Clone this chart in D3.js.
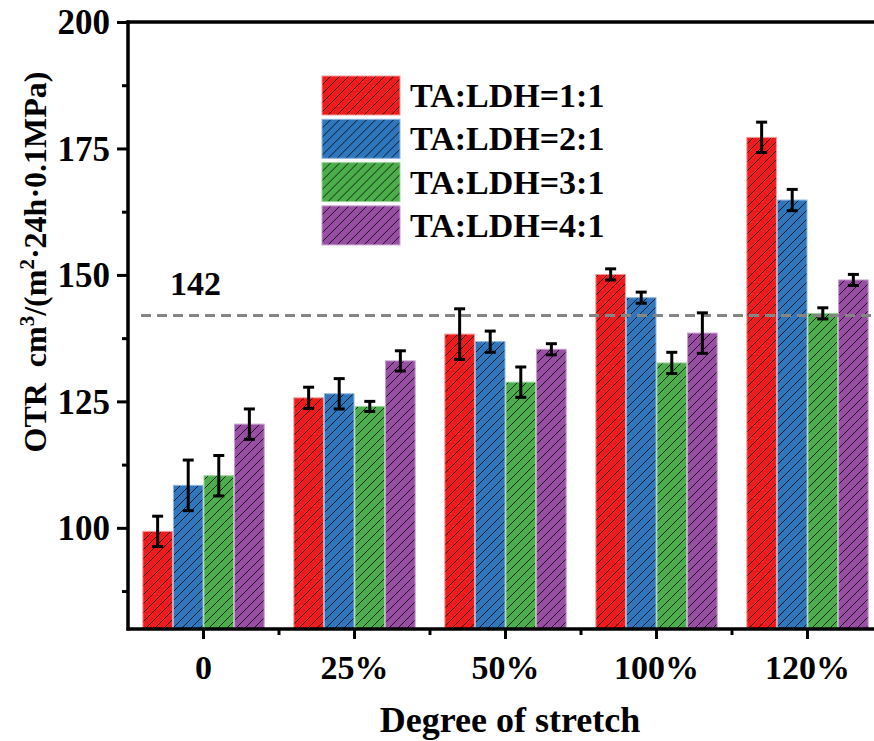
<!DOCTYPE html>
<html>
<head>
<meta charset="utf-8">
<script src="https://cdn.jsdelivr.net/npm/d3@7"></script>
<style>
body{margin:0;background:#fff;}
svg text{font-family:"Liberation Serif","Times New Roman",serif;font-weight:bold;fill:#000;}
</style>
</head>
<body>
<svg id="chart" width="874" height="741"></svg>
<script>
// stretch levels
var categories = ["0", "25%", "50%", "100%", "120%"];
var seriesNames = ["TA:LDH=1:1", "TA:LDH=2:1", "TA:LDH=3:1", "TA:LDH=4:1"];
var seriesColors = ["#EF1A1A", "#2F77BD", "#4BAE4A", "#984EA3"];
var seriesEdges = ["#F59A9A", "#8DB6E0", "#9BD49A", "#C79BCF"];

// OTR values and error per series
var otr11 = [99.3, 125.7, 138.3, 150.1, 177.2];
var otr21 = [108.4, 126.5, 136.8, 145.5, 164.8];
var otr31 = [110.3, 124.0, 128.8, 132.6, 142.4];
var otr41 = [120.5, 133.0, 135.3, 138.5, 149.0];
var err11 = [3.0, 2.1, 5.0, 1.1, 3.0];
var err21 = [5.0, 3.0, 2.1, 1.1, 2.1];
var err31 = [4.0, 1.0, 3.0, 2.1, 1.1];
var err41 = [3.0, 2.0, 1.1, 4.0, 1.1];

var yMajorTicks = [100, 125, 150, 175, 200];
var yMinorTicks = [87.5, 112.5, 137.5, 162.5, 187.5];
var refValue = 142;

var values = [otr11, otr21, otr31, otr41];
var errors = [err11, err21, err31, err41];

var rows = [];
categories.forEach(function(c, i){
    seriesNames.forEach(function(s, j){
        rows.push({cat: c, series: s, idx: j, value: values[j][i], err: errors[j][i]});
    });
});

var svg = d3.select("#chart");
var plotLeft = 128, plotTop = 22, plotBottom = 629, plotRight = 883;

var x0 = d3.scaleBand().domain(categories).range([plotLeft, plotRight]).paddingInner(0.19).paddingOuter(0.095);
var x1 = d3.scaleBand().domain(seriesNames).range([0, x0.bandwidth()]);
var y = d3.scaleLinear().domain([80, 200]).range([plotBottom, plotTop]);

// hatch patterns
var hs = 9;
var defs = svg.append("defs");
seriesNames.forEach(function(s, j){
    var p = defs.append("pattern").attr("id", "hatch" + j)
        .attr("patternUnits", "userSpaceOnUse").attr("width", hs).attr("height", hs);
    p.append("rect").attr("width", hs).attr("height", hs).attr("fill", seriesColors[j]);
    p.append("path").attr("d", "M-1,1 L1,-1 M0," + hs + " L" + hs + ",0 M" + (hs - 1) + "," + (hs + 1) + " L" + (hs + 1) + "," + (hs - 1))
        .attr("stroke", "#000").attr("stroke-width", 0.8);
});

// bars
svg.append("g").selectAll("rect").data(rows).enter().append("rect")
    .attr("x", function(d){ return x0(d.cat) + x1(d.series) + 0.5; })
    .attr("y", function(d){ return y(d.value); })
    .attr("width", x1.bandwidth() - 1)
    .attr("height", function(d){ return plotBottom - y(d.value); })
    .attr("fill", function(d){ return "url(#hatch" + d.idx + ")"; })
    .attr("stroke", function(d){ return seriesEdges[d.idx]; })
    .attr("stroke-width", 1);

// reference line
svg.append("line").attr("x1", plotLeft + 13).attr("x2", 874)
    .attr("y1", y(refValue)).attr("y2", y(refValue))
    .attr("stroke", "#858585").attr("stroke-width", 3).attr("stroke-dasharray", "10,6");
svg.append("text").attr("x", 170).attr("y", 295).style("font-size", "34px").text(refValue);

// error bars
var eb = svg.append("g").attr("stroke", "#000").attr("stroke-width", 3);
rows.forEach(function(d){
    var cx = x0(d.cat) + x1(d.series) + x1.bandwidth() / 2;
    eb.append("line").attr("x1", cx).attr("x2", cx).attr("y1", y(d.value + d.err)).attr("y2", y(d.value - d.err));
    eb.append("line").attr("x1", cx - 5.5).attr("x2", cx + 5.5).attr("y1", y(d.value + d.err)).attr("y2", y(d.value + d.err));
    eb.append("line").attr("x1", cx - 5.5).attr("x2", cx + 5.5).attr("y1", y(d.value - d.err)).attr("y2", y(d.value - d.err));
});

// y axis
var yAxis = svg.append("g").attr("transform", "translate(" + plotLeft + ",0)")
    .call(d3.axisLeft(y).tickValues(yMajorTicks).tickSize(11).tickPadding(7));
svg.append("g").attr("transform", "translate(" + plotLeft + ",0)")
    .call(d3.axisLeft(y).tickValues(yMinorTicks).tickSize(6).tickFormat(""));
yAxis.selectAll("text").style("font-size", "35px").attr("dy", "0.34em");

// x axis
var xAxis = svg.append("g").attr("transform", "translate(0," + plotBottom + ")")
    .call(d3.axisBottom(x0).tickSize(10).tickPadding(16));
xAxis.selectAll("text").style("font-size", "34px");
var minorX = categories.slice(1).map(function(c){ return x0(c) - x0.step() * 0.19 / 2; });
svg.append("g").selectAll("line").data(minorX).enter().append("line")
    .attr("x1", function(d){ return d; }).attr("x2", function(d){ return d; })
    .attr("y1", plotBottom).attr("y2", plotBottom + 6)
    .attr("stroke", "#000").attr("stroke-width", 3);

svg.selectAll(".tick line").attr("stroke-width", 3);
// axis lines drawn by hand so they meet at the corner
svg.selectAll(".domain").remove();
svg.append("line").attr("x1", plotLeft).attr("x2", plotLeft).attr("y1", plotTop - 1.5).attr("y2", plotBottom + 1.5)
    .attr("stroke", "#000").attr("stroke-width", 3.5);
svg.append("line").attr("x1", plotLeft - 1.5).attr("x2", 874).attr("y1", plotBottom).attr("y2", plotBottom)
    .attr("stroke", "#000").attr("stroke-width", 3.5);
svg.append("line").attr("x1", plotLeft - 1.5).attr("x2", 874).attr("y1", plotTop).attr("y2", plotTop)
    .attr("stroke", "#000").attr("stroke-width", 3.5);

// axis titles
svg.append("text").attr("x", 510).attr("y", 732).attr("text-anchor", "middle")
    .style("font-size", "36px").text("Degree of stretch");
var yl = svg.append("text").attr("transform", "translate(46,262) rotate(-90)")
    .attr("text-anchor", "middle").style("font-size", "32px");
yl.append("tspan").text("OTR\u00a0\u00a0cm");
yl.append("tspan").attr("dy", -12).style("font-size", "21px").text("3");
yl.append("tspan").attr("dy", 12).text("/(m");
yl.append("tspan").attr("dy", -12).style("font-size", "21px").text("2");
yl.append("tspan").attr("dy", 12).text("\u00b724h\u00b70.1MPa)");

// legend
var legend = svg.append("g").selectAll("g").data(seriesNames).enter().append("g")
    .attr("transform", function(d, j){ return "translate(322," + (76 + j * 43.3) + ")"; });
legend.append("rect").attr("width", 78).attr("height", 39)
    .attr("fill", function(d, j){ return "url(#hatch" + j + ")"; })
    .attr("stroke", function(d, j){ return seriesEdges[j]; }).attr("stroke-width", 1);
legend.append("text").attr("x", 88).attr("y", 31).style("font-size", "34px").text(function(d){ return d; });
</script>
</body>
</html>
